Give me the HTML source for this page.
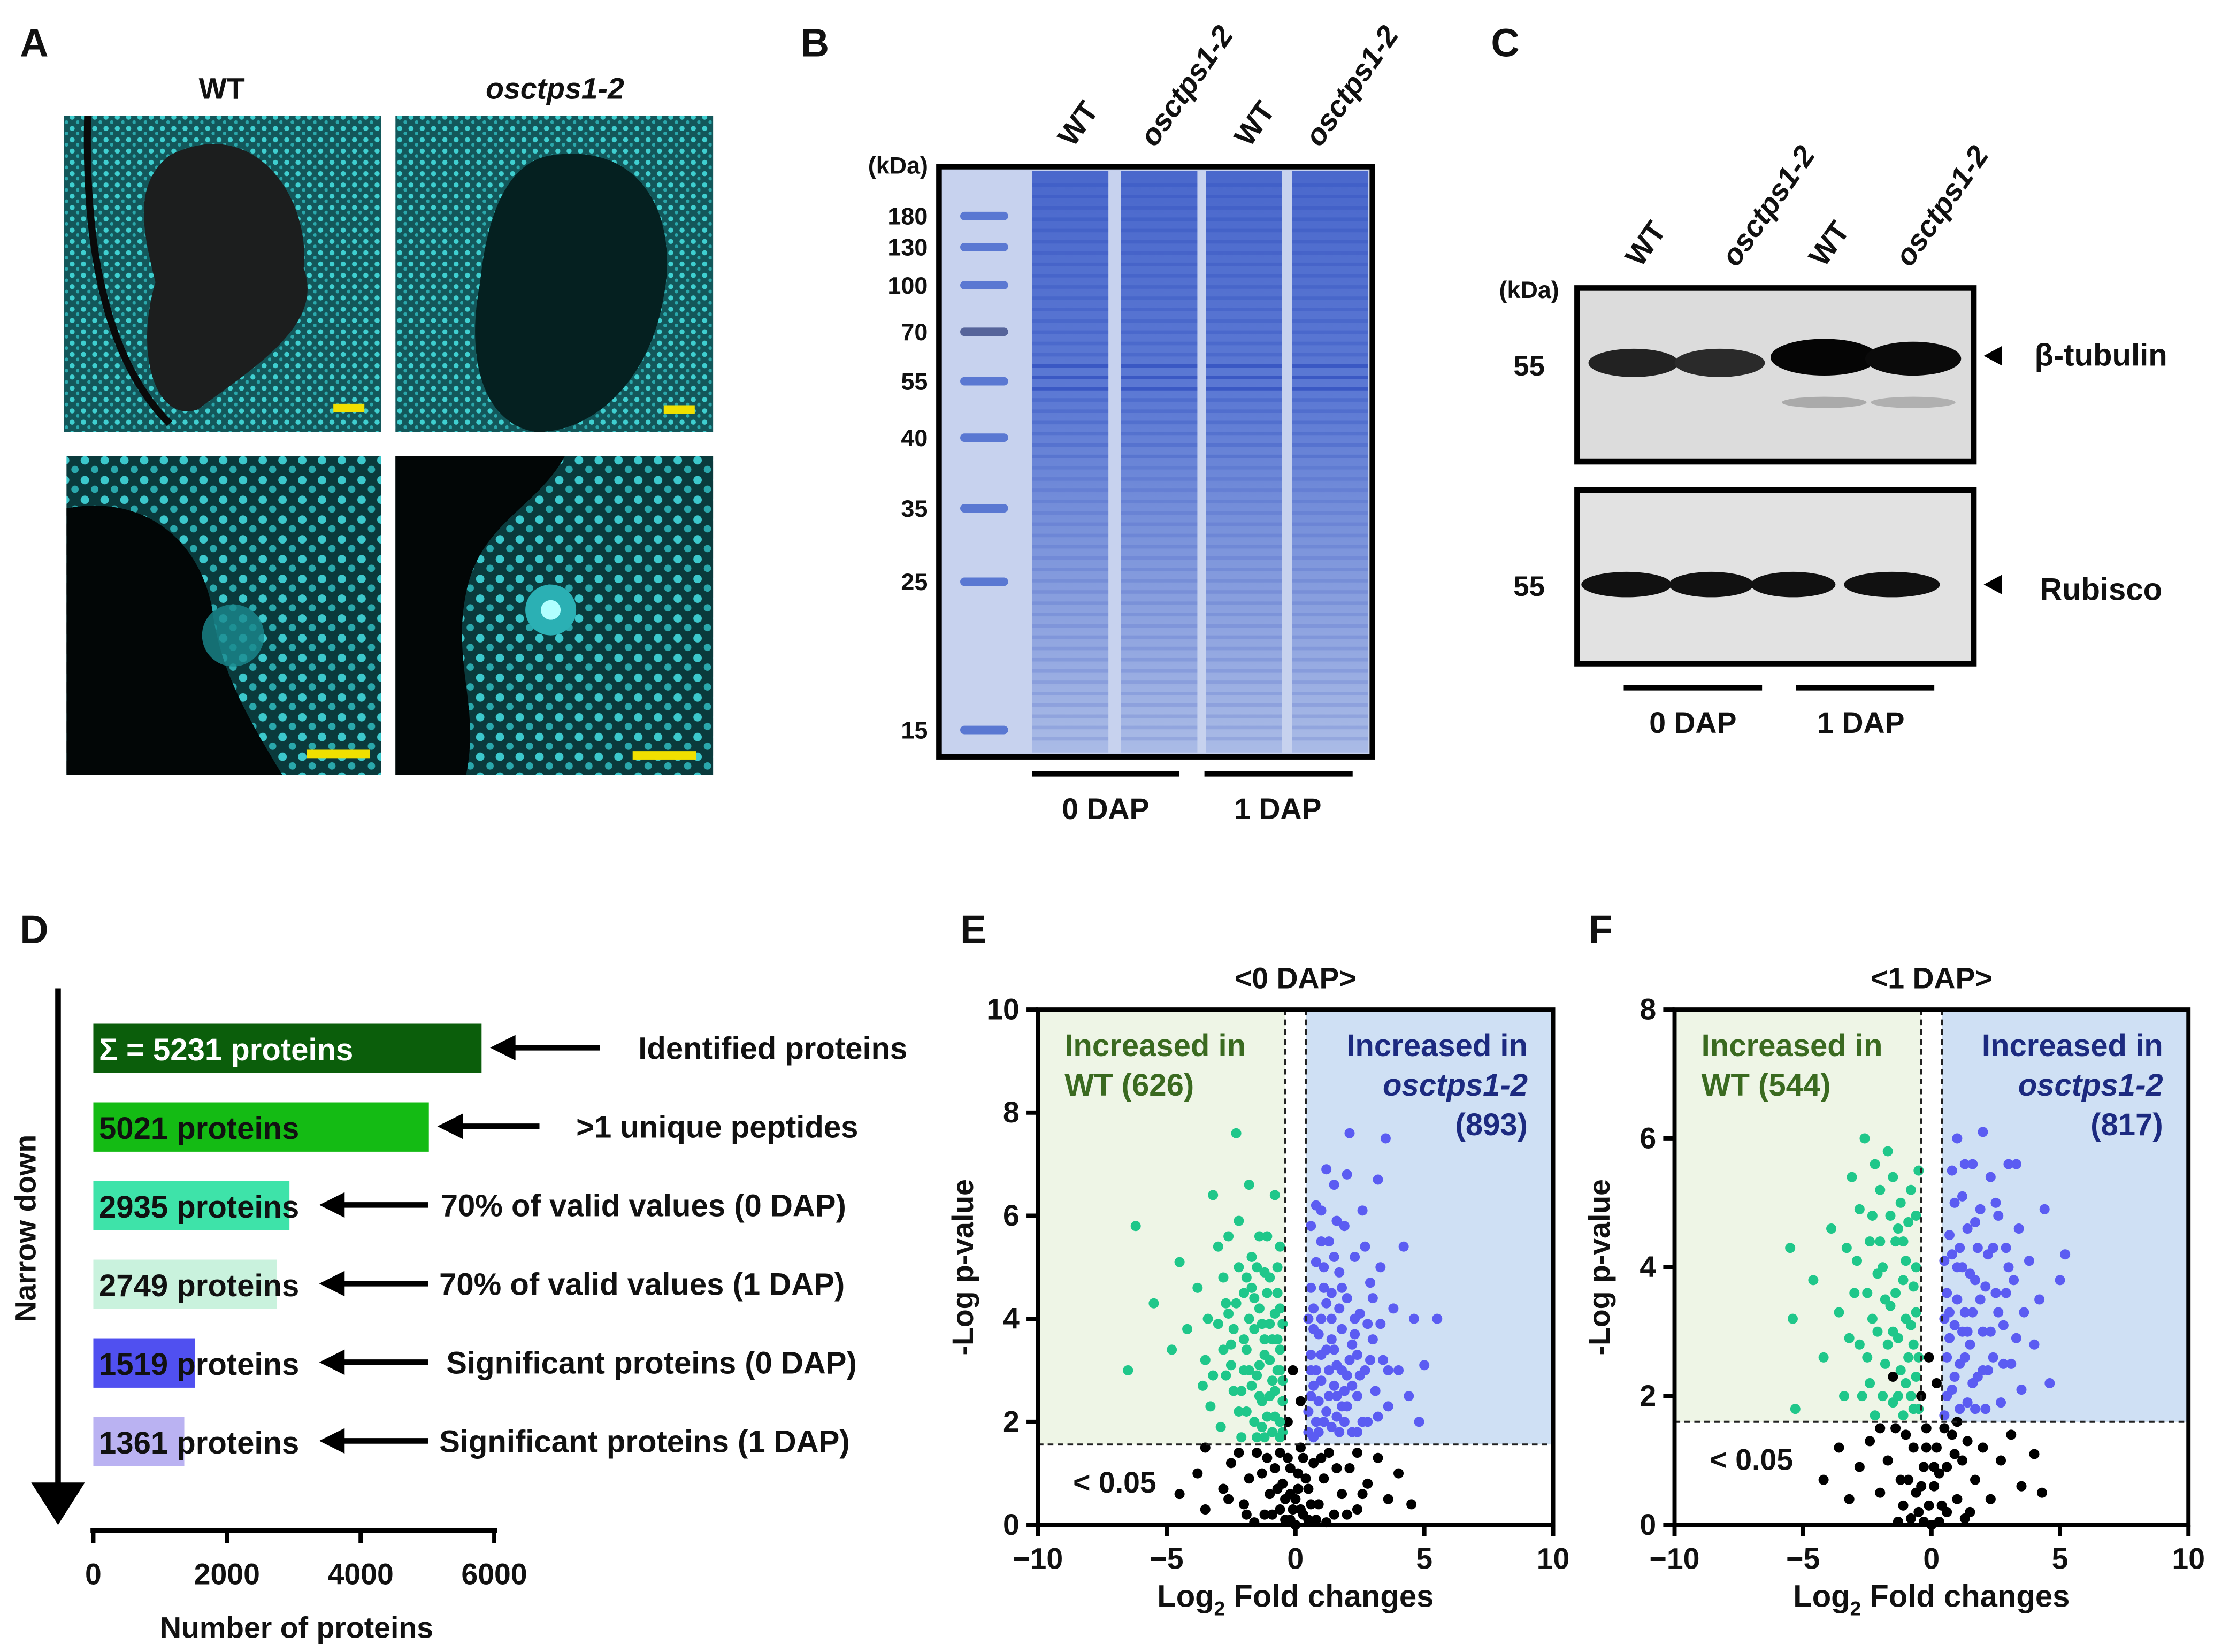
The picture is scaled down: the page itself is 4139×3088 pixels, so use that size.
<!DOCTYPE html>
<html><head><meta charset="utf-8">
<style>
html,body{margin:0;padding:0;background:#fff;}
svg{display:block;}
text{font-family:"Liberation Sans",Arial,sans-serif;font-weight:bold;fill:#111;}
</style></head>
<body>
<svg id="fig" width="4139" height="3088" viewBox="0 0 1568 1170" xmlns="http://www.w3.org/2000/svg">
<defs>
<pattern id="nuc" width="8" height="8" patternUnits="userSpaceOnUse">
<rect width="8" height="8" fill="#13575a"/>
<circle cx="3" cy="3" r="1.8" fill="#3fcfd0"/>
<circle cx="7" cy="6.5" r="1.3" fill="#2aa8ac"/>
</pattern>
<pattern id="nuc2" width="14" height="14" patternUnits="userSpaceOnUse">
<rect width="14" height="14" fill="#0a3a3c"/>
<circle cx="4" cy="4" r="3" fill="#3cc8cc"/>
<circle cx="11" cy="10.5" r="2.6" fill="#2aa8ac"/>
</pattern>
<linearGradient id="lane" x1="0" x2="0" y1="0" y2="1">
<stop offset="0" stop-color="#4a68cc"/><stop offset="0.4" stop-color="#5d7ad4"/><stop offset="1" stop-color="#aabbe6"/>
</linearGradient>
</defs>

<!-- Panel A -->
<g>
<text x="14" y="40" font-size="28">A</text>
<text x="157" y="70" font-size="21" text-anchor="middle">WT</text>
<text x="393" y="70" font-size="21" text-anchor="middle" font-style="italic">osctps1-2</text>
<g>
<rect x="45" y="82" width="225" height="224" fill="url(#nuc)"/>
<path d="M120,110 C180,80 220,140 215,190 C230,230 180,260 140,290 C110,300 95,250 110,200 C100,160 95,130 120,110Z" fill="#1c1e1e"/>
<path d="M62,82 C60,160 70,250 120,300" stroke="#0a0a0a" stroke-width="5" fill="none"/>
<rect x="236" y="286" width="22" height="6" fill="#f0e000"/>
</g>
<g>
<rect x="280" y="82" width="225" height="224" fill="url(#nuc)"/>
<path d="M390,110 C460,100 480,160 470,210 C460,270 420,306 380,306 C340,300 330,250 340,200 C345,150 360,115 390,110Z" fill="#052020"/>
<rect x="470" y="287" width="22" height="6" fill="#f0e000"/>
</g>
<g>
<rect x="47" y="323" width="223" height="226" fill="url(#nuc2)"/>
<path d="M47,360 C100,350 140,380 150,430 C155,470 170,500 200,549 L47,549Z" fill="#020606"/>
<circle cx="165" cy="450" r="22" fill="#1a8a8e" opacity="0.8"/>
<rect x="217" y="531" width="45" height="6" fill="#f0e000"/>
</g>
<g>
<rect x="280" y="323" width="225" height="226" fill="url(#nuc2)"/>
<path d="M280,323 L400,323 C380,360 340,370 330,420 C320,470 340,500 330,549 L280,549Z" fill="#020606"/>
<circle cx="390" cy="432" r="18" fill="#2bb0b4"/><circle cx="390" cy="432" r="7" fill="#b0ffff"/>
<rect x="448" y="532" width="45" height="6" fill="#f0e000"/>
</g>
</g>

<!-- Panel B -->
<g>
<text x="567" y="40" font-size="28">B</text>
<g font-size="21">
<text transform="translate(760,105) rotate(-55)">WT</text>
<text transform="translate(818,105) rotate(-55)" font-style="italic">osctps1-2</text>
<text transform="translate(885,105) rotate(-55)">WT</text>
<text transform="translate(935,105) rotate(-55)" font-style="italic">osctps1-2</text>
</g>
<text x="636" y="123" font-size="17" text-anchor="middle">(kDa)</text>
<rect x="665" y="118" width="307" height="418" fill="#c7d2ee" stroke="#000" stroke-width="4"/>
<g id="gelLanes"></g>
<g id="ladder"></g>
<g font-size="17" text-anchor="end" id="kdaLabels"></g>
<line x1="731" y1="548" x2="835" y2="548" stroke="#000" stroke-width="4"/>
<line x1="853" y1="548" x2="958" y2="548" stroke="#000" stroke-width="4"/>
<text x="783" y="580" font-size="21" text-anchor="middle">0 DAP</text>
<text x="905" y="580" font-size="21" text-anchor="middle">1 DAP</text>
</g>

<!-- Panel C -->
<g>
<text x="1056" y="40" font-size="28">C</text>
<g font-size="21">
<text transform="translate(1162,190) rotate(-55)">WT</text>
<text transform="translate(1230,190) rotate(-55)" font-style="italic">osctps1-2</text>
<text transform="translate(1292,190) rotate(-55)">WT</text>
<text transform="translate(1353,190) rotate(-55)" font-style="italic">osctps1-2</text>
</g>
<text x="1083" y="211" font-size="17" text-anchor="middle">(kDa)</text>
<rect x="1117" y="204" width="281" height="123" fill="#dcdcdc" stroke="#000" stroke-width="4"/>
<g>
<ellipse cx="1157" cy="257" rx="32" ry="10" fill="#222"/>
<ellipse cx="1218" cy="257" rx="32" ry="10" fill="#2a2a2a"/>
<ellipse cx="1292" cy="253" rx="38" ry="13" fill="#050505"/>
<ellipse cx="1355" cy="254" rx="34" ry="12" fill="#0a0a0a"/>
<ellipse cx="1292" cy="285" rx="30" ry="4" fill="#aaa"/>
<ellipse cx="1355" cy="285" rx="30" ry="4" fill="#b0b0b0"/>
</g>
<rect x="1117" y="347" width="281" height="123" fill="#e2e2e2" stroke="#000" stroke-width="4"/>
<g>
<ellipse cx="1152" cy="414" rx="32" ry="9" fill="#111"/>
<ellipse cx="1212" cy="414" rx="30" ry="9" fill="#111"/>
<ellipse cx="1270" cy="414" rx="30" ry="9" fill="#111"/>
<ellipse cx="1340" cy="414" rx="34" ry="9" fill="#111"/>
</g>
<text x="1083" y="266" font-size="20" text-anchor="middle">55</text>
<text x="1083" y="422" font-size="20" text-anchor="middle">55</text>
<polygon points="1405,252 1418,245 1418,259" fill="#000"/>
<polygon points="1405,414 1418,407 1418,421" fill="#000"/>
<text x="1488" y="259" font-size="22" text-anchor="middle">β-tubulin</text>
<text x="1488" y="425" font-size="22" text-anchor="middle">Rubisco</text>
<line x1="1150" y1="487" x2="1248" y2="487" stroke="#000" stroke-width="4"/>
<line x1="1272" y1="487" x2="1370" y2="487" stroke="#000" stroke-width="4"/>
<text x="1199" y="519" font-size="21" text-anchor="middle">0 DAP</text>
<text x="1318" y="519" font-size="21" text-anchor="middle">1 DAP</text>
</g>

<!-- Panel D -->
<g>
<text x="14" y="668" font-size="28">D</text>
<line x1="41" y1="700" x2="41" y2="1052" stroke="#000" stroke-width="4"/>
<polygon points="22,1050 60,1050 41,1080" fill="#000"/>
<text transform="translate(25,870) rotate(-90)" font-size="21" text-anchor="middle">Narrow down</text>
<g id="barsD"></g>
<g id="axisD"></g>
<text x="210" y="1160" font-size="21" text-anchor="middle">Number of proteins</text>
</g>

<text x="680" y="668" font-size="28">E</text>
<text x="1125" y="668" font-size="28">F</text>
<g id="volE"></g>
<g id="volF"></g>

<script>
var NS="http://www.w3.org/2000/svg";
function mk(tag,attrs,parent){var e=document.createElementNS(NS,tag);for(var k in attrs)e.setAttribute(k,attrs[k]);parent.appendChild(e);return e;}

// ---- Panel B data ----
var kdaLabels=["180","130","100","70","55","40","35","25","15"];
var kdaY=[153,175,202,235,270,310,360,412,517];
var laneCenters=[758,821,881,942];
var gL=document.getElementById("gelLanes");
laneCenters.forEach(function(c,i){
  var r=mk("rect",{x:c-27,y:121,width:54,height:412,fill:"url(#lane)"},gL);
  
  
  for(var y=130;y<530;y+=8){
    var o=(y>255&&y<280)?0.55:(y<330?0.22:0.14);
    var b=mk("rect",{x:c-27,y:y,width:54,height:2.5,fill:"#2040b8",opacity:o},gL);
    
    
  }
});
var lad=document.getElementById("ladder"),kl=document.getElementById("kdaLabels");
kdaLabels.forEach(function(t,i){
  var b=mk("rect",{x:680,y:kdaY[i]-3,width:34,height:6,rx:3,fill:i==3?"#56649a":"#5a78d2"},lad);
  
  
  var tx=mk("text",{x:657,y:kdaY[i]+6,"font-size":17},kl);
  tx.textContent=t;
  
  
});

// ---- Panel D data ----
var dValues=[5810,5021,2935,2749,1519,1361];
var dBarText=["Σ = 5231 proteins","5021 proteins","2935 proteins","2749 proteins","1519 proteins","1361 proteins"];
var dDesc=["Identified proteins",">1 unique peptides","70% of valid values (0 DAP)","70% of valid values (1 DAP)","Significant proteins (0 DAP)","Significant proteins (1 DAP)"];
var dColors=["#0b5e0b","#14bb14","#3ee3a9","#c9f2dd","#5050f0","#bab2f2"];
var dTicks=[0,2000,4000,6000];
var descX=[452,408,312,311,316,311];
var dX=function(v){return 66+v*(350-66)/6000;};
var dY=function(i){return 725+i*55.7;};
var gD=document.getElementById("barsD");
dValues.forEach(function(v,i){
  var y=dY(i);
  var r=mk("rect",{x:dX(0),y:y,width:dX(v)-dX(0),height:35,fill:dColors[i]},gD);
  
  
  var t=mk("text",{x:70,y:y+26,"font-size":22},gD);
  t.textContent=dBarText[i];
  if(i==0)t.setAttribute("style","fill:#fff");
  
  
  var ax0=(i<2)?dX(v)+6:226;
  var ax1=(i==0?425:(i==1?382:303));
  var l=mk("line",{x1:ax0+14,y1:y+17,x2:ax1,y2:y+17,stroke:"#000","stroke-width":4},gD);
  
  
  var h=mk("polygon",{points:ax0+","+(y+17)+" "+(ax0+18)+","+(y+8)+" "+(ax0+18)+","+(y+26),fill:"#000"},gD);
  
  
  var d=mk("text",{x:descX[i],y:y+25,"font-size":22},gD);
  d.textContent=dDesc[i];
  
  
});
var aD=document.getElementById("axisD");
var xl=mk("line",{x1:64,y1:1084,x2:352,y2:1084,stroke:"#000","stroke-width":3},aD);


dTicks.forEach(function(t){
  var tk=mk("line",{x1:dX(t),y1:1084,x2:dX(t),y2:1093,stroke:"#000","stroke-width":3},aD);
  
  
  var tl=mk("text",{x:dX(t),y:1122,"font-size":21,"text-anchor":"middle"},aD);
  tl.textContent=String(t);
  
  
});

// ---- Volcano data ----
var xTicks=[-10,-5,0,5,10];
var xTickLabels=["\u221210","\u22125","0","5","10"];
var eYTicks=[0,2,4,6,8,10];
var fYTicks=[0,2,4,6,8];
var eGreen=[[-6.2,5.8],[-5.5,4.3],[-6.5,3.0],[-4.5,5.1],[-4.2,3.8],[-3.8,4.6],[-3.5,3.2],[-3.2,6.4],[-3.0,5.4],[-2.8,4.8],[-2.6,4.1],[-2.5,3.5],[-2.4,2.6],[-2.3,7.6],[-2.2,5.9],[-2.0,4.5],[-2.0,3.0],[-1.9,2.2],[-1.8,6.6],[-1.7,5.2],[-1.6,3.8],[-1.5,2.9],[-1.4,4.2],[-1.3,1.9],[-1.2,3.3],[-1.1,5.6],[-1.0,2.5],[-1.0,4.8],[-0.9,3.6],[-0.8,2.1],[-0.8,6.4],[-0.7,3.0],[-0.6,4.2],[-0.5,2.4],[-0.5,1.8],[-3.3,2.3],[-2.9,1.9],[-2.1,1.7],[-1.6,2.0],[-1.2,1.7],[-0.9,2.8],[-0.6,3.4],[-1.4,3.1],[-2.7,2.9],[-3.6,2.7],[-4.8,3.4],[-1.8,4.0],[-2.3,4.3],[-1.1,4.5],[-0.7,5.0],[-1.5,5.0],[-2.6,5.6],[-1.9,3.4],[-1.0,3.9],[-0.6,2.0],[-1.3,2.4],[-2.2,2.2],[-1.7,2.7],[-0.8,2.6],[-2.4,3.8],[-1.2,3.6],[-0.7,4.5],[-1.9,4.8],[-3.0,3.9],[-0.6,1.7],[-0.9,1.8],[-1.5,1.7],[-0.5,2.8],[-0.7,3.6],[-1.1,2.1],[-1.4,2.5],[-1.8,3.0],[-2.1,2.6],[-2.5,3.1],[-0.6,3.0],[-1.0,3.2],[-1.3,3.9],[-1.6,4.4],[-2.0,3.6],[-2.8,3.4],[-3.2,2.9],[-0.5,3.9],[-0.8,4.1],[-1.2,4.9],[-1.7,4.6],[-2.2,5.0],[-0.6,5.4],[-1.4,5.6],[-2.7,4.3],[-3.4,4.0]];
var eBlue=[[0.5,1.8],[0.6,2.5],[0.6,3.3],[0.7,4.2],[0.8,5.1],[0.8,2.0],[0.9,3.7],[1.0,6.1],[1.0,2.8],[1.1,4.6],[1.2,2.2],[1.2,3.4],[1.3,5.5],[1.4,1.9],[1.4,4.0],[1.5,2.7],[1.5,6.6],[1.6,3.1],[1.7,4.9],[1.8,2.3],[1.8,3.8],[1.9,5.8],[2.0,2.9],[2.0,4.4],[2.1,7.6],[2.2,1.8],[2.2,3.5],[2.3,5.2],[2.4,2.5],[2.5,4.1],[2.6,6.1],[2.7,3.0],[2.8,2.0],[2.9,4.7],[3.0,3.6],[3.1,2.6],[3.3,5.0],[3.4,3.2],[3.5,7.5],[3.6,2.3],[3.8,4.2],[4.0,3.0],[4.2,5.4],[4.4,2.5],[4.6,4.0],[5.0,3.1],[5.5,4.0],[4.8,2.0],[3.2,6.7],[2.0,6.8],[1.0,4.0],[0.6,5.8],[1.6,2.1],[2.6,2.0],[0.7,1.7],[1.3,3.0],[2.4,3.3],[1.9,2.6],[1.1,5.0],[0.9,2.4],[1.4,3.6],[1.7,4.2],[2.1,3.2],[0.8,3.0],[1.2,4.3],[2.3,4.0],[1.5,5.2],[0.7,3.8],[2.8,3.9],[1.9,2.0],[0.5,2.2],[0.6,3.0],[0.5,4.0],[0.6,4.6],[0.9,1.8],[1.1,2.0],[1.0,3.3],[1.3,2.5],[1.6,2.5],[1.5,3.4],[1.8,3.0],[2.0,2.3],[2.2,2.7],[2.5,2.9],[2.3,3.7],[1.4,4.5],[1.8,4.6],[1.0,5.5],[1.6,5.9],[2.7,5.4],[3.0,4.4],[3.3,3.9],[2.9,3.2],[3.6,3.0],[0.8,6.2],[1.2,6.9],[0.7,2.7],[1.7,1.8],[2.4,1.8],[3.2,2.1]];
var eBlack=[[-3.5,0.3],[-2.8,0.7],[-2.5,1.2],[-2.0,0.4],[-1.8,0.9],[-1.5,1.4],[-1.2,0.2],[-1.0,0.6],[-0.8,1.1],[-0.6,0.3],[-0.5,0.8],[-0.3,1.3],[-0.2,0.1],[0,0.5],[0.1,1.0],[0.2,1.5],[0.3,0.2],[0.5,0.7],[0.7,1.2],[0.9,0.4],[1.1,0.9],[1.3,1.4],[1.5,0.2],[1.8,0.6],[2.1,1.1],[2.4,0.3],[2.8,0.8],[3.2,1.3],[3.6,0.5],[-3.8,1.0],[-3.5,1.5],[4.0,1.0],[-0.3,2.0],[0.2,2.4],[-0.1,3.0],[0.0,0.0],[-1.6,0.05],[1.2,0.05],[-4.5,0.6],[4.5,0.4],[-0.4,0.5],[0.4,0.9],[-0.9,0.2],[0.8,0.1],[-1.3,1.0],[1.6,1.1],[-2.2,1.4],[2.4,1.4],[-0.1,0.3],[0.1,0.7],[-0.2,1.1],[0.3,1.3],[-0.6,1.4],[0.6,0.4],[-0.7,0.7],[-1.1,1.3],[1.0,1.3],[-0.4,0.1],[0.5,0.1],[-1.9,0.2],[2.0,0.2],[-2.6,0.5],[2.6,0.6],[-0.2,0.6],[0.2,0.3]];
var fGreen=[[-5.5,4.3],[-5.4,3.2],[-5.3,1.8],[-4.6,3.8],[-4.2,2.6],[-3.9,4.6],[-3.6,3.3],[-3.4,2.0],[-3.1,5.4],[-2.9,4.1],[-2.8,2.8],[-2.6,6.0],[-2.5,3.6],[-2.4,2.2],[-2.3,4.8],[-2.2,1.7],[-2.1,3.0],[-2.0,5.2],[-1.9,4.0],[-1.8,2.5],[-1.7,5.8],[-1.6,3.4],[-1.5,1.9],[-1.4,4.4],[-1.3,2.9],[-1.2,5.0],[-1.1,3.8],[-1.0,2.2],[-0.9,4.7],[-0.8,3.1],[-0.7,1.8],[-0.6,4.0],[-0.5,2.6],[-0.5,5.5],[-3.0,3.6],[-2.7,2.0],[-1.9,2.0],[-1.2,2.4],[-0.8,2.0],[-1.6,4.8],[-2.3,3.2],[-1.0,3.2],[-0.6,3.3],[-1.4,3.6],[-2.0,4.4],[-3.3,4.3],[-1.1,4.4],[-0.7,2.8],[-1.7,2.8],[-2.5,2.6],[-0.5,1.8],[-0.6,2.3],[-0.9,2.6],[-1.3,2.0],[-1.5,3.0],[-1.8,3.5],[-2.1,3.9],[-2.4,4.4],[-0.7,3.7],[-1.0,4.1],[-1.3,4.6],[-0.6,4.8],[-1.5,5.4],[-2.2,5.6],[-0.8,5.2],[-2.8,4.9],[-3.2,2.9],[-1.1,1.7]];
var fBlue=[[0.5,1.7],[0.6,2.6],[0.6,3.6],[0.7,4.5],[0.8,5.5],[0.8,2.1],[0.9,3.1],[1.0,6.0],[1.0,4.0],[1.1,2.5],[1.2,5.1],[1.3,3.3],[1.4,1.9],[1.4,4.6],[1.5,2.8],[1.6,5.6],[1.7,3.8],[1.8,2.3],[1.9,4.9],[2.0,6.1],[2.0,3.0],[2.1,1.8],[2.2,4.2],[2.3,5.4],[2.4,2.6],[2.5,3.6],[2.6,4.8],[2.7,1.9],[2.8,3.1],[2.9,4.3],[3.0,5.6],[3.1,2.5],[3.2,3.8],[3.4,4.6],[3.5,2.1],[3.6,3.3],[3.8,4.1],[4.0,2.8],[4.2,3.5],[4.6,2.2],[5.0,3.8],[5.2,4.2],[4.4,4.9],[3.3,5.6],[1.2,3.0],[1.6,2.2],[0.7,2.9],[1.9,3.5],[2.4,4.3],[1.1,4.3],[0.9,5.0],[1.5,3.9],[2.2,2.4],[0.6,2.0],[1.3,2.6],[2.8,2.5],[0.5,3.2],[0.5,4.1],[0.7,3.3],[0.9,2.3],[1.0,3.5],[1.2,4.0],[1.4,3.0],[1.6,3.3],[1.8,4.3],[2.0,2.4],[2.1,3.7],[2.3,3.0],[2.6,3.3],[2.9,3.6],[1.3,5.6],[1.7,4.7],[2.5,5.0],[3.0,4.0],[0.8,4.2],[1.1,1.8],[1.7,1.8],[3.3,2.9]];
var fBlack=[[-3.2,0.4],[-2.8,0.9],[-2.4,1.3],[-2.0,0.5],[-1.7,1.0],[-1.4,1.5],[-1.1,0.3],[-0.9,0.7],[-0.7,1.2],[-0.5,0.2],[-0.3,0.9],[-0.2,1.5],[0,0.0],[0.1,0.6],[0.2,1.2],[0.4,0.3],[0.6,0.9],[0.8,1.4],[1.0,0.4],[1.2,1.0],[1.5,0.2],[1.7,0.7],[2.0,1.2],[2.3,0.4],[2.7,1.0],[3.1,1.4],[3.5,0.6],[-3.6,1.2],[4.0,1.1],[-1.5,2.3],[-0.4,2.0],[0.2,2.2],[-0.1,2.6],[-1.3,0.05],[1.3,0.1],[-4.2,0.7],[4.3,0.5],[-0.6,0.5],[0.5,1.5],[-1.0,1.4],[1.0,1.6],[-2.0,1.5],[-0.1,0.3],[0.1,0.9],[-0.2,1.2],[0.3,0.8],[-0.4,0.6],[0.6,0.2],[-0.8,0.1],[0.9,1.1],[-1.2,0.7],[1.4,1.3],[-0.3,0.05],[0.3,0.05]];

function volcano(g,o){
  var X=function(v){return o.x0+(v+10)*(o.x1-o.x0)/20;};
  var Y=function(v){return o.y1-v*(o.y1-o.y0)/o.ymax;};
  var thr=Y(o.thr);
  var a=mk("rect",{x:o.x0,y:o.y0,width:X(-0.4)-o.x0,height:thr-o.y0,fill:"#eef5e6"},g);
  
  
  var b=mk("rect",{x:X(0.4),y:o.y0,width:o.x1-X(0.4),height:thr-o.y0,fill:"#cfe0f4"},g);
  
  
  [[o.black,"#000"],[o.green,"#1fc78a"],[o.blue,"#5b5cf2"]].forEach(function(s){
    s[0].forEach(function(p){
      var c=mk("circle",{cx:X(p[0]),cy:Y(p[1]),r:3.6,fill:s[1]},g);
      
      
    });
  });
  var h=mk("line",{x1:o.x0,y1:thr,x2:o.x1,y2:thr,stroke:"#222","stroke-width":1.5,"stroke-dasharray":"4,3"},g);
  
  
  [-0.4,0.4].forEach(function(v){
    var l=mk("line",{x1:X(v),y1:o.y0,x2:X(v),y2:thr,stroke:"#222","stroke-width":1.5,"stroke-dasharray":"4,3"},g);
    
    
  });
  var f=mk("rect",{x:o.x0,y:o.y0,width:o.x1-o.x0,height:o.y1-o.y0,fill:"none",stroke:"#000","stroke-width":3},g);
  
  
  xTicks.forEach(function(t,i){
    var k=mk("line",{x1:X(t),y1:o.y1,x2:X(t),y2:o.y1+8,stroke:"#000","stroke-width":3},g);
    
    
    var tl=mk("text",{x:X(t),y:o.y1+31,"font-size":21,"text-anchor":"middle"},g);
    tl.textContent=xTickLabels[i];
    
    
  });
  o.yt.forEach(function(t){
    var k=mk("line",{x1:o.x0-8,y1:Y(t),x2:o.x0,y2:Y(t),stroke:"#000","stroke-width":3},g);
    
    
    var tl=mk("text",{x:o.x0-13,y:Y(t)+7,"font-size":21,"text-anchor":"end"},g);
    tl.textContent=String(t);
    
    
  });
  var ti=mk("text",{x:(o.x0+o.x1)/2,y:700,"font-size":21,"text-anchor":"middle"},g);
  ti.textContent=o.title;
  
  
  var yt=mk("text",{transform:"translate("+(o.x0-46)+","+((o.y0+o.y1)/2)+") rotate(-90)","font-size":21,"text-anchor":"middle"},g);
  yt.textContent="-Log p-value";
  
  
  var xt=mk("text",{x:(o.x0+o.x1)/2,y:o.y1+58,"font-size":22,"text-anchor":"middle"},g);
  
  
  var s1=mk("tspan",{},xt); s1.textContent="Log";
  var s2=mk("tspan",{"font-size":14,dy:6},xt); s2.textContent="2";
  var s3=mk("tspan",{dy:-6},xt); s3.textContent=" Fold changes";
  var g1=mk("text",{x:o.x0+19,y:o.y0+33,"font-size":22,style:"fill:#3a6a20"},g);
  g1.textContent="Increased in";
  
  
  var g2=mk("text",{x:o.x0+19,y:o.y0+61,"font-size":22,style:"fill:#3a6a20"},g);
  g2.textContent=o.wtn;
  
  
  var b1=mk("text",{x:o.x1-18,y:o.y0+33,"font-size":22,"text-anchor":"end",style:"fill:#1c2a80"},g);
  b1.textContent="Increased in";
  
  
  var b2=mk("text",{x:o.x1-18,y:o.y0+61,"font-size":22,"text-anchor":"end","font-style":"italic",style:"fill:#1c2a80"},g);
  b2.textContent="osctps1-2";
  
  
  var b3=mk("text",{x:o.x1-18,y:o.y0+89,"font-size":22,"text-anchor":"end",style:"fill:#1c2a80"},g);
  b3.textContent=o.mutn;
  
  
  var p=mk("text",{x:o.x0+25,y:thr+34,"font-size":21},g);
  p.textContent="< 0.05";
  
  
}
volcano(document.getElementById("volE"),{x0:735,x1:1100,y0:715,y1:1080,ymax:10,thr:1.56,yt:eYTicks,green:eGreen,blue:eBlue,black:eBlack,title:"<0 DAP>",wtn:"WT (626)",mutn:"(893)"});
volcano(document.getElementById("volF"),{x0:1186,x1:1550,y0:715,y1:1080,ymax:8,thr:1.6,yt:fYTicks,green:fGreen,blue:fBlue,black:fBlack,title:"<1 DAP>",wtn:"WT (544)",mutn:"(817)"});
</script>
</svg>
</body></html>
